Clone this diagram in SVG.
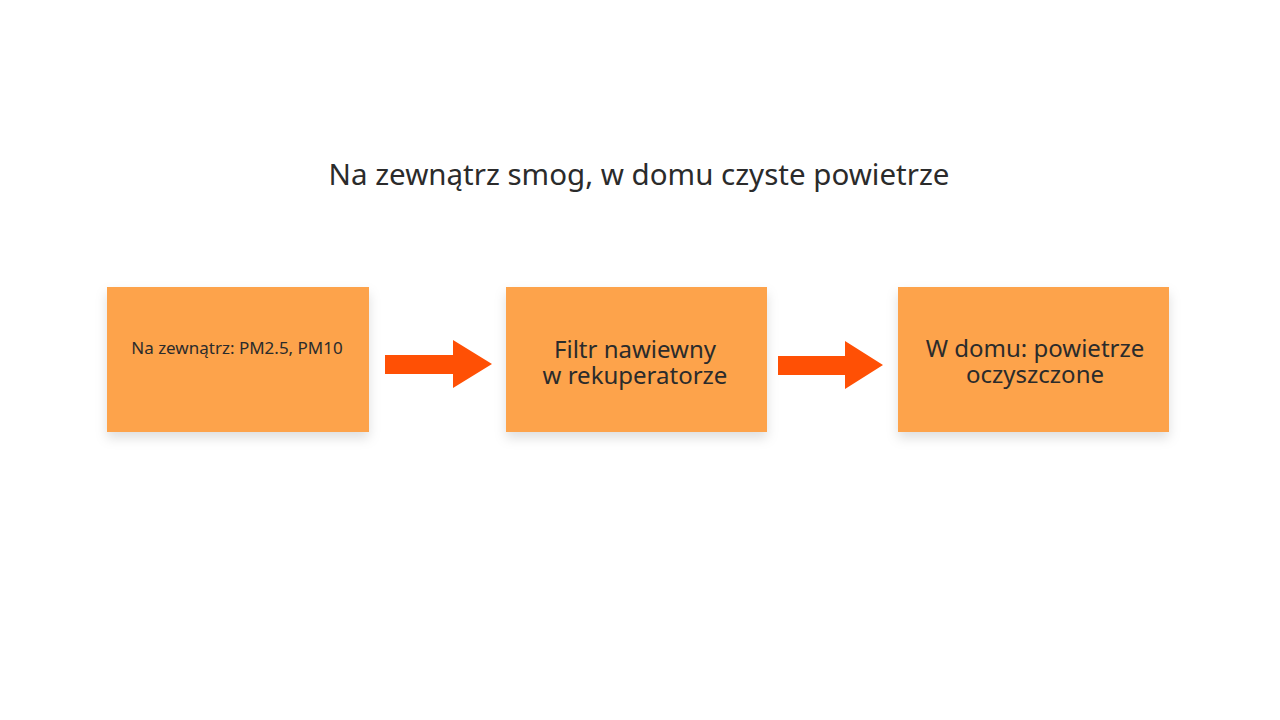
<svg xmlns="http://www.w3.org/2000/svg" width="1280" height="720" viewBox="0 0 1280 720">
<defs>
<filter id="sh" x="-10%" y="-10%" width="120%" height="130%">
<feDropShadow dx="0" dy="6" stdDeviation="6" flood-color="#000" flood-opacity="0.13"/>
</filter>
</defs>
<style>
.box{fill:#FDA34B;filter:url(#sh)}
.arrow{fill:#FF5005}
text{font-family:"Noto Sans","Open Sans",sans-serif;fill:#2b2b2b;text-anchor:middle}
.t{font-size:29.5px}
.s{font-size:17px}
.m{font-size:24px}
</style>
<rect width="1280" height="720" fill="#fff"/>
<text class="t" x="639" y="185">Na zewnątrz smog, w domu czyste powietrze</text>
<g id="node1"><rect class="box" x="107" y="287" width="262" height="145"/><text class="s" x="237" y="354">Na zewnątrz: PM2.5, PM10</text></g>
<g id="node2"><rect class="box" x="506" y="287" width="261" height="145"/><text class="m" x="635" y="358">Filtr nawiewny</text><text class="m" x="635" y="384">w rekuperatorze</text></g>
<g id="node3"><rect class="box" x="898" y="287" width="271" height="145"/><text class="m" x="1035" y="357">W domu: powietrze</text><text class="m" x="1035" y="383">oczyszczone</text></g>
<g id="connectors">
<polygon class="arrow" points="385,355 453,355 453,340 492,364 453,388 453,374 385,374"/>
<polygon class="arrow" points="778,356 845,356 845,341 883,365 845,389 845,375 778,375"/>
</g>
</svg>
